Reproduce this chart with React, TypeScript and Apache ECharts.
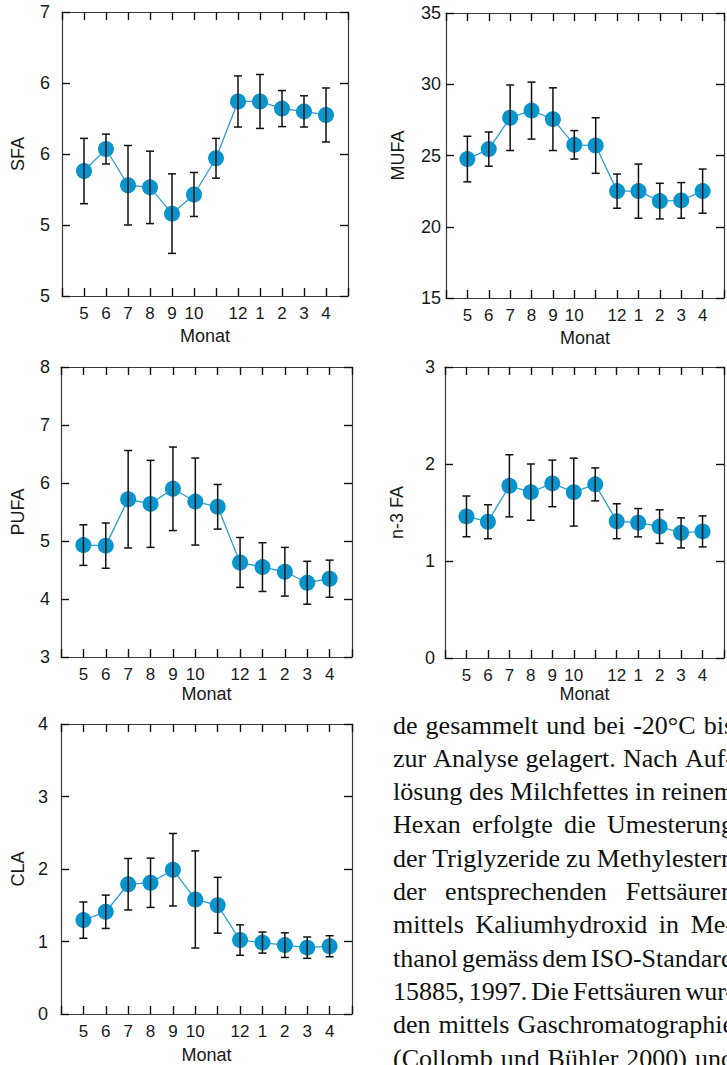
import React, { useEffect, useRef } from "react";
import * as echarts from "echarts";

// ---------- DATA ----------
const monthLabels = ["5", "6", "7", "8", "9", "10", "", "12", "1", "2", "3", "4"];

const sfaTickLabels = ["5", "5", "6", "6", "7"];
const sfaMean = [58.8, 60.35, 57.8, 57.65, 55.8, 57.15, 59.7, 63.7, 63.7, 63.2, 63.0, 62.75];
const sfaSd = [2.3, 1.05, 2.8, 2.55, 2.8, 1.55, 1.4, 1.8, 1.9, 1.27, 1.1, 1.9];

const mufaMean = [24.75, 25.45, 27.65, 28.15, 27.55, 25.75, 25.7, 22.5, 22.5, 21.8, 21.85, 22.5];
const mufaSd = [1.6, 1.2, 2.3, 2.0, 2.2, 1.0, 1.95, 1.2, 1.9, 1.25, 1.25, 1.55];

const pufaMean = [4.93, 4.92, 5.72, 5.64, 5.9, 5.68, 5.59, 4.63, 4.55, 4.47, 4.28, 4.35];
const pufaSd = [0.35, 0.39, 0.84, 0.75, 0.72, 0.75, 0.385, 0.43, 0.42, 0.42, 0.37, 0.32];

const n3Mean = [1.46, 1.405, 1.775, 1.71, 1.8, 1.71, 1.79, 1.41, 1.395, 1.355, 1.29, 1.305];
const n3Sd = [0.21, 0.175, 0.32, 0.29, 0.24, 0.35, 0.17, 0.18, 0.146, 0.173, 0.155, 0.16];

const claMean = [1.295, 1.41, 1.79, 1.81, 1.99, 1.58, 1.5, 1.02, 0.985, 0.95, 0.915, 0.935];
const claSd = [0.25, 0.23, 0.355, 0.34, 0.5, 0.67, 0.385, 0.21, 0.145, 0.17, 0.147, 0.145];

const paragraphLines = [
  "de gesammelt und bei -20°C bis",
  "zur Analyse gelagert. Nach Auf-",
  "lösung des Milchfettes in reinem",
  "Hexan erfolgte die Umesterung",
  "der Triglyzeride zu Methylestern",
  "der entsprechenden Fettsäuren",
  "mittels Kaliumhydroxid in Me-",
  "thanol gemäss dem ISO-Standard",
  "15885, 1997. Die Fettsäuren wur-",
  "den mittels Gaschromatographie",
  "(Collomb und Bühler 2000) und",
];

// ---------- LAYOUT ----------
const SANS = "'Liberation Sans', Arial, Helvetica, sans-serif";
const SERIF = "'Liberation Serif', 'Times New Roman', serif";

const panels = [
  { name: "SFA", mean: sfaMean, sd: sfaSd, min: 50, max: 70, interval: 5, tickLabels: sfaTickLabels,
    left: 62, top: 12, width: 286, height: 284, yMargin: 12, yNameGap: 35, xNameGap: 31 },
  { name: "MUFA", mean: mufaMean, sd: mufaSd, min: 15, max: 35, interval: 5, tickLabels: null,
    left: 446, top: 13, width: 286, height: 285, yMargin: 5, yNameGap: 39, xNameGap: 31 },
  { name: "PUFA", mean: pufaMean, sd: pufaSd, min: 3, max: 8, interval: 1, tickLabels: null,
    left: 61, top: 367, width: 291, height: 290, yMargin: 11, yNameGap: 34, xNameGap: 28 },
  { name: "n-3 FA", mean: n3Mean, sd: n3Sd, min: 0, max: 3, interval: 1, tickLabels: null,
    left: 445, top: 367, width: 291, height: 291, yMargin: 10, yNameGap: 39, xNameGap: 27 },
  { name: "CLA", mean: claMean, sd: claSd, min: 0, max: 4, interval: 1, tickLabels: null,
    left: 61, top: 724, width: 291, height: 291, yMargin: 13, yNameGap: 34, xNameGap: 32 },
];

const TEXT_LEFT = 393;
const TEXT_RIGHT = 734;
const TEXT_FIRST_Y = 725;
const TEXT_LINE_H = 33.3;
const TEXT_SIZE = 26;

function buildTextGraphics() {
  const canvas = document.createElement("canvas");
  const ctx = canvas.getContext("2d");
  const elements: any[] = [];
  if (!ctx) return elements;
  ctx.font = `${TEXT_SIZE}px 'Liberation Serif'`;
  const W = TEXT_RIGHT - TEXT_LEFT;
  paragraphLines.forEach((line, i) => {
    const words = line.split(" ");
    const widths = words.map((w) => ctx.measureText(w).width);
    const total = widths.reduce((a, b) => a + b, 0);
    let gap = words.length > 1 ? (W - total) / (words.length - 1) : 0;
    if (gap < 2.5) gap = 2.5;
    let x = TEXT_LEFT;
    words.forEach((w, j) => {
      elements.push({
        type: "text",
        x,
        y: TEXT_FIRST_Y + i * TEXT_LINE_H,
        silent: true,
        style: {
          text: w,
          fontSize: TEXT_SIZE,
          fontFamily: SERIF,
          fill: "#111",
          verticalAlign: "middle",
        },
      });
      x += widths[j] + gap;
    });
  });
  return elements;
}

function buildOption() {
  const grid: any[] = [];
  const xAxis: any[] = [];
  const yAxis: any[] = [];
  const series: any[] = [];
  const axisLine = { show: true, onZero: false, lineStyle: { color: "#3a3a3a", width: 1.2 } };
  const axisTick = { show: true, inside: true, length: 8, lineStyle: { color: "#111", width: 1.4 } };

  panels.forEach((p, i) => {
    grid.push({ left: p.left, top: p.top, width: p.width, height: p.height });
    const xBase = {
      type: "value", gridIndex: i, min: 0, max: 13, interval: 1,
      axisLine, axisTick, splitLine: { show: false },
    };
    xAxis.push({
      ...xBase, position: "bottom",
      axisLabel: {
        show: true, margin: 9, fontSize: 17, color: "#1a1a1a", fontFamily: SANS,
        formatter: (v: number) => monthLabels[Math.round(v) - 1] ?? "",
      },
      name: "Monat", nameLocation: "middle", nameGap: p.xNameGap,
      nameTextStyle: { fontSize: 18, color: "#1a1a1a", fontFamily: SANS },
    });
    xAxis.push({ ...xBase, position: "top", axisLabel: { show: false } });

    const yBase = {
      type: "value", gridIndex: i, min: p.min, max: p.max, interval: p.interval,
      axisLine, axisTick, splitLine: { show: false },
    };
    yAxis.push({
      ...yBase, position: "left",
      axisLabel: {
        show: true, margin: p.yMargin, fontSize: 18, color: "#1a1a1a", fontFamily: SANS,
        formatter: (v: number) =>
          p.tickLabels ? p.tickLabels[Math.round((v - p.min) / p.interval)] ?? "" : String(v),
      },
      name: p.name, nameLocation: "middle", nameGap: p.yNameGap, nameRotate: 90,
      nameTextStyle: { fontSize: 18, color: "#1a1a1a", fontFamily: SANS },
    });
    yAxis.push({ ...yBase, position: "right", axisLabel: { show: false } });

    series.push({
      type: "line",
      xAxisIndex: 2 * i,
      yAxisIndex: 2 * i,
      data: p.mean.map((m, k) => [k + 1, m]),
      symbol: "circle",
      symbolSize: 16,
      lineStyle: { color: "#2a9fd8", width: 1.3 },
      itemStyle: { color: "#0894cc" },
      z: 2,
    });
    series.push({
      type: "custom",
      xAxisIndex: 2 * i,
      yAxisIndex: 2 * i,
      data: p.mean.map((m, k) => [k + 1, m - p.sd[k], m + p.sd[k]]),
      encode: { x: 0, y: [1, 2] },
      z: 3,
      renderItem: (_params: any, api: any) => {
        const x = api.value(0);
        const lo = api.coord([x, api.value(1)]);
        const hi = api.coord([x, api.value(2)]);
        const hw = 4;
        const st = { stroke: "#111", lineWidth: 1.5 };
        return {
          type: "group",
          children: [
            { type: "line", shape: { x1: lo[0], y1: lo[1], x2: hi[0], y2: hi[1] }, style: st },
            { type: "line", shape: { x1: lo[0] - hw, y1: lo[1], x2: lo[0] + hw, y2: lo[1] }, style: st },
            { type: "line", shape: { x1: hi[0] - hw, y1: hi[1], x2: hi[0] + hw, y2: hi[1] }, style: st },
          ],
        };
      },
    });
  });

  return {
    animation: false,
    backgroundColor: "#ffffff",
    grid,
    xAxis,
    yAxis,
    series,
    graphic: buildTextGraphics(),
  };
}

export default function App() {
  const ref = useRef<HTMLDivElement>(null);
  useEffect(() => {
    if (!ref.current) return;
    const chart = echarts.init(ref.current, undefined, { renderer: "svg" });
    chart.setOption(buildOption() as any);
    return () => chart.dispose();
  }, []);
  return (
    <div
      ref={ref}
      style={{ position: "absolute", left: 0, top: 0, width: 727, height: 1065, background: "#fff" }}
    />
  );
}
